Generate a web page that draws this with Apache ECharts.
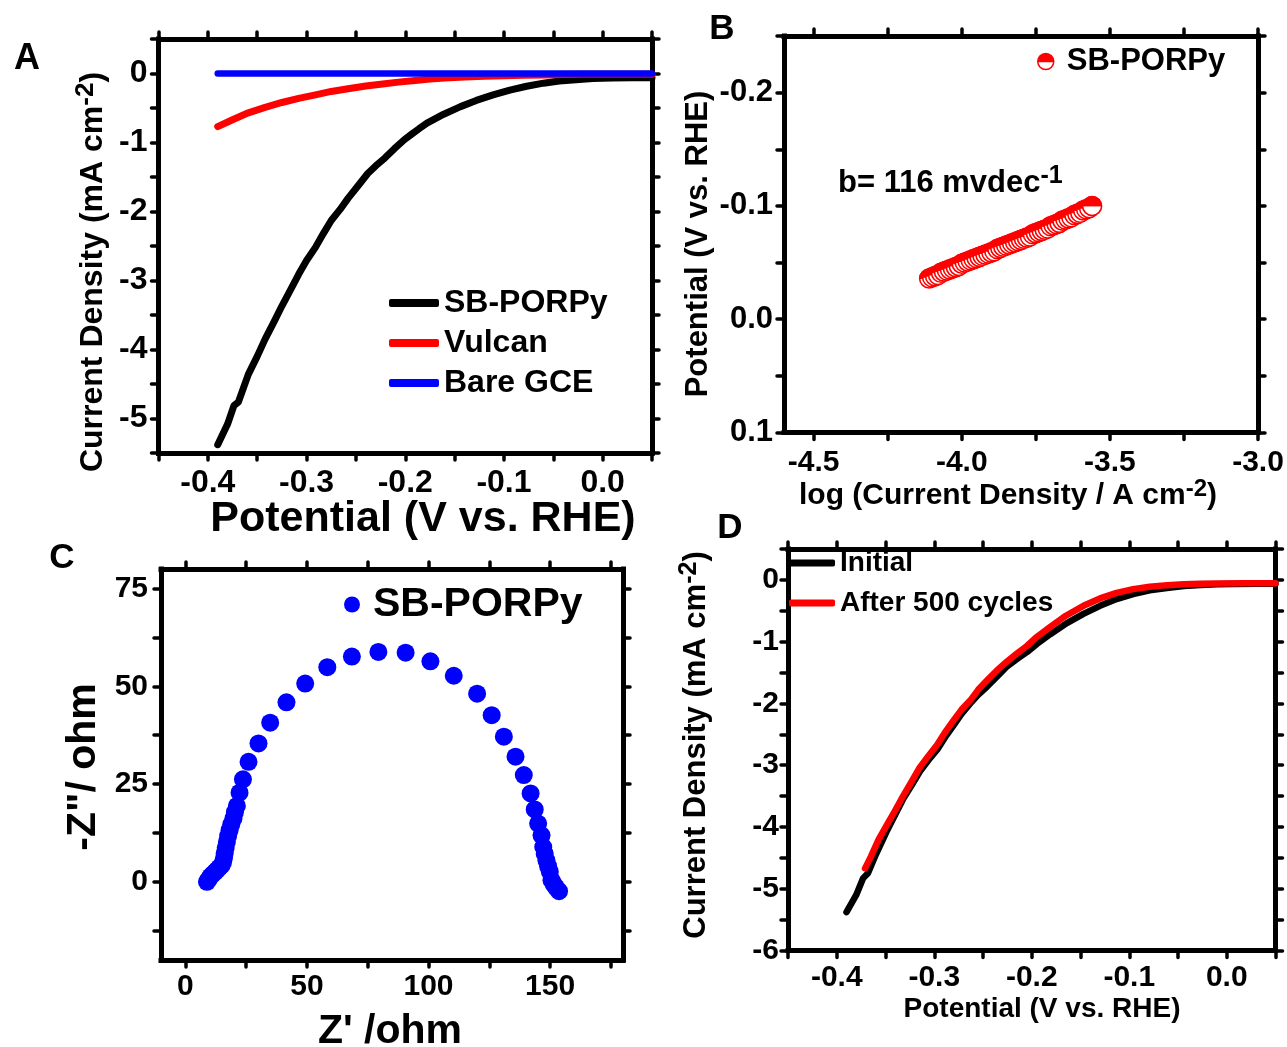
<!DOCTYPE html>
<html>
<head>
<meta charset="utf-8">
<script src="https://cdn.jsdelivr.net/npm/echarts@6/dist/echarts.min.js"></script>
<style>
  html, body { margin: 0; padding: 0; background: #fff; }
  #chart { width: 1287px; height: 1047px; }
</style>
</head>
<body>
<div id="chart"></div>
<script>
// ---------------- DATA ----------------
// Panel A: LSV polarization curves
const aPotSB = [-0.390,-0.380,-0.3735,-0.369,-0.359,-0.350,-0.342,-0.333,-0.325,-0.316,-0.308,-0.300,-0.291,-0.283,-0.275,-0.266,-0.258,-0.248,-0.238,-0.230,-0.221,-0.211,-0.201,-0.1945,-0.186,-0.178,-0.161,-0.144,-0.128,-0.111,-0.094,-0.077,-0.060,-0.044,-0.027,-0.010,0.010,0.030,0.050];
const aCurSB = [-5.38,-5.08,-4.81,-4.76,-4.36,-4.10,-3.85,-3.60,-3.37,-3.13,-2.91,-2.71,-2.52,-2.32,-2.13,-1.97,-1.81,-1.63,-1.45,-1.34,-1.23,-1.09,-0.96,-0.89,-0.80,-0.72,-0.59,-0.48,-0.39,-0.31,-0.24,-0.185,-0.14,-0.11,-0.09,-0.073,-0.066,-0.063,-0.063];
const aPotVulcan = [-0.390,-0.375,-0.359,-0.342,-0.325,-0.308,-0.291,-0.275,-0.258,-0.240,-0.225,-0.207,-0.190,-0.175,-0.160,-0.140,-0.120,-0.100,-0.080,-0.060,-0.040,-0.020,0.000,0.050];
const aCurVulcan = [-0.77,-0.67,-0.57,-0.49,-0.42,-0.36,-0.31,-0.26,-0.22,-0.18,-0.155,-0.125,-0.10,-0.08,-0.065,-0.05,-0.04,-0.032,-0.025,-0.02,-0.015,-0.012,-0.01,-0.01];
const aPotGCE = [-0.390,-0.300,-0.200,-0.100,0.000,0.050];
const aCurGCE = [0,0,0,0,0,0];

// Panel B: Tafel plot
const bLogJ = [-4.11,-4.10,-4.09,-4.08,-4.07,-4.06,-4.05,-4.04,-4.03,-4.02,-4.01,-4.00,-3.99,-3.98,-3.97,-3.96,-3.95,-3.94,-3.93,-3.92,-3.91,-3.90,-3.89,-3.88,-3.87,-3.86,-3.85,-3.84,-3.83,-3.82,-3.81,-3.80,-3.79,-3.78,-3.77,-3.76,-3.75,-3.74,-3.73,-3.72,-3.71,-3.70,-3.69,-3.68,-3.67,-3.66,-3.65,-3.64,-3.63,-3.62,-3.61,-3.60,-3.59,-3.58,-3.57,-3.56];
const bPot = [-0.036,-0.037,-0.038,-0.039,-0.041,-0.042,-0.043,-0.044,-0.045,-0.046,-0.047,-0.049,-0.050,-0.051,-0.052,-0.053,-0.054,-0.055,-0.056,-0.057,-0.058,-0.059,-0.060,-0.062,-0.063,-0.064,-0.065,-0.066,-0.067,-0.068,-0.069,-0.070,-0.071,-0.072,-0.073,-0.075,-0.076,-0.077,-0.078,-0.079,-0.080,-0.082,-0.083,-0.084,-0.085,-0.087,-0.088,-0.089,-0.090,-0.092,-0.093,-0.094,-0.096,-0.097,-0.098,-0.100];

// Panel C: Nyquist plot
const cZre = [8.9,9.6,10.3,11.2,12.2,13.0,14.0,14.9,15.5,15.9,16.2,16.6,17.1,17.6,18.2,18.9,19.8,20.4,21.2,22.3,23.7,26.0,30.1,34.9,41.6,49.3,58.4,68.5,79.4,90.6,100.8,110.4,120.0,126.0,131.0,135.8,139.2,142.0,143.7,145.1,146.5,147.2,147.8,148.5,149.2,149.9,150.6,151.5,152.5,153.7];
const cZim = [0.0,0.6,1.3,1.9,2.5,3.0,3.6,4.2,5.0,6.1,7.3,8.7,10.2,11.7,13.2,14.7,16.2,17.8,19.4,22.8,26.2,30.7,35.4,40.7,45.9,50.7,54.9,57.6,58.8,58.6,56.4,52.7,48.1,42.6,37.1,32.0,27.3,22.6,18.5,14.9,11.9,8.9,7.2,5.5,4.0,2.6,0.4,-0.6,-1.5,-2.4];

// Panel D: stability
const dPotInit = [-0.390,-0.380,-0.373,-0.368,-0.360,-0.349,-0.340,-0.332,-0.323,-0.3146,-0.306,-0.297,-0.289,-0.280,-0.272,-0.263,-0.255,-0.246,-0.236,-0.226,-0.215,-0.205,-0.195,-0.181,-0.164,-0.147,-0.130,-0.113,-0.096,-0.079,-0.0615,-0.044,-0.027,-0.010,0.006,0.030,0.050];
const dCurInit = [-5.38,-5.10,-4.83,-4.75,-4.45,-4.08,-3.80,-3.55,-3.32,-3.10,-2.92,-2.75,-2.55,-2.35,-2.17,-2.00,-1.86,-1.73,-1.57,-1.41,-1.28,-1.17,-1.04,-0.88,-0.70,-0.55,-0.42,-0.31,-0.23,-0.17,-0.13,-0.10,-0.082,-0.072,-0.066,-0.062,-0.062];
const dPotCycled = [-0.371,-0.365,-0.357,-0.349,-0.340,-0.332,-0.323,-0.315,-0.306,-0.297,-0.289,-0.280,-0.272,-0.263,-0.255,-0.246,-0.236,-0.226,-0.215,-0.205,-0.196,-0.181,-0.165,-0.147,-0.130,-0.113,-0.096,-0.079,-0.061,-0.044,-0.027,-0.010,0.020,0.050];
const dCurCycled = [-4.67,-4.48,-4.20,-3.98,-3.73,-3.50,-3.26,-3.04,-2.85,-2.67,-2.47,-2.27,-2.10,-1.95,-1.78,-1.63,-1.47,-1.33,-1.19,-1.07,-0.94,-0.76,-0.58,-0.42,-0.30,-0.21,-0.15,-0.11,-0.085,-0.07,-0.062,-0.057,-0.056,-0.056];

// Ticks and tick labels
const aXTicks = [-0.45,-0.4,-0.35,-0.3,-0.25,-0.2,-0.15,-0.1,-0.05,0,0.05];
const aXLabels = [-0.4,-0.3,-0.2,-0.1,0];
const aYTicks = [-5.5,-5,-4.5,-4,-3.5,-3,-2.5,-2,-1.5,-1,-0.5,0,0.5];
const aYLabels = [-5,-4,-3,-2,-1,0];
const bXTicks = [-4.5,-4.25,-4,-3.75,-3.5,-3.25,-3];
const bXLabels = [-4.5,-4,-3.5,-3];
const bYTicks = [-0.25,-0.2,-0.15,-0.1,-0.05,0,0.05,0.1];
const bYLabels = [-0.2,-0.1,0,0.1];
const cXTicks = [0,25,50,75,100,125,150,175];
const cXLabels = [0,50,100,150];
const cYTicks = [-12.5,0,12.5,25,37.5,50,62.5,75];
const cYLabels = [0,25,50,75];
const dXTicks = [-0.45,-0.4,-0.35,-0.3,-0.25,-0.2,-0.15,-0.1,-0.05,0,0.05];
const dXLabels = [-0.4,-0.3,-0.2,-0.1,0];
const dYTicks = [-6,-5.5,-5,-4.5,-4,-3.5,-3,-2.5,-2,-1.5,-1,-0.5,0,0.5];
const dYLabels = [-6,-5,-4,-3,-2,-1,0];

// ---------------- CHART ----------------
const FONT = '"Liberation Sans", Arimo, Arial, Helvetica, sans-serif';
const zip = (xs, ys) => xs.map((x, i) => [x, ys[i]]);
const fmtInt = v => (Math.abs(v) < 1e-9 ? '0' : String(Math.round(v)));
const fmt1 = v => (Math.abs(v) < 1e-9 ? '0.0' : v.toFixed(1));

function axis(gridIndex, position, min, max, ticks, labels, fmt, fontSize, margin, showLabels, inverse) {
  return {
    type: 'value', gridIndex, position, min, max, inverse: !!inverse,
    splitLine: { show: false },
    axisLine: { show: true, onZero: false, lineStyle: { color: '#000', width: 5, cap: 'square' } },
    axisTick: { show: true, inside: false, length: 7, customValues: ticks,
      lineStyle: { color: '#000', width: 3.5, cap: 'round' } },
    axisLabel: { show: showLabels, customValues: labels, formatter: fmt, fontSize, fontWeight: 'bold',
      fontFamily: FONT, color: '#000', margin },
    minorTick: { show: false }, minorSplitLine: { show: false }
  };
}

const grids = [
  { left: 158.5, top: 39, width: 493.5, height: 414 },
  { left: 784, top: 36, width: 474, height: 396.5 },
  { left: 161, top: 569, width: 462, height: 391 },
  { left: 788, top: 549, width: 487.5, height: 401.5 }
].map(g => Object.assign({ containLabel: false, outerBoundsMode: 'none', show: false }, g));

const xAxes = [
  axis(0, 'bottom', -0.45, 0.05, aXTicks, aXLabels, fmt1, 32, 14, true),
  axis(0, 'top', -0.45, 0.05, aXTicks, aXLabels, fmt1, 32, 14, false),
  axis(1, 'bottom', -4.6, -3.0, bXTicks, bXLabels, fmt1, 30, 15, true),
  axis(1, 'top', -4.6, -3.0, bXTicks, bXLabels, fmt1, 30, 15, false),
  axis(2, 'bottom', -10, 180, cXTicks, cXLabels, fmtInt, 30, 12, true),
  axis(2, 'top', -10, 180, cXTicks, cXLabels, fmtInt, 30, 12, false),
  axis(3, 'bottom', -0.45, 0.05, dXTicks, dXLabels, fmt1, 30, 12, true),
  axis(3, 'top', -0.45, 0.05, dXTicks, dXLabels, fmt1, 30, 12, false)
];
const yAxes = [
  axis(0, 'left', -5.5, 0.5, aYTicks, aYLabels, fmtInt, 32, 11, true),
  axis(0, 'right', -5.5, 0.5, aYTicks, aYLabels, fmtInt, 32, 11, false),
  axis(1, 'left', -0.25, 0.1, bYTicks, bYLabels, fmt1, 31, 11, true, true),
  axis(1, 'right', -0.25, 0.1, bYTicks, bYLabels, fmt1, 31, 11, false, true),
  axis(2, 'left', -20, 80, cYTicks, cYLabels, fmtInt, 30, 13, true),
  axis(2, 'right', -20, 80, cYTicks, cYLabels, fmtInt, 30, 13, false),
  axis(3, 'left', -6, 0.5, dYTicks, dYLabels, fmtInt, 30, 9, true),
  axis(3, 'right', -6, 0.5, dYTicks, dYLabels, fmtInt, 30, 9, false)
];

const lineSeries = (name, xi, yi, data, color, width) => ({
  name, type: 'line', xAxisIndex: xi, yAxisIndex: yi, data, symbol: 'none', showSymbol: false,
  smooth: false, silent: true, clip: true,
  itemStyle: { color }, lineStyle: { color, width, cap: 'round', join: 'round' }
});

const HALF_CIRCLE = 'path://M0,10 A10,10 0 1,1 20,10 A10,10 0 1,1 0,10 Z M20,10 L0,10 A10,10 0 0,0 20,10 Z';

const series = [
  lineSeries('SB-PORPy', 0, 0, zip(aPotSB, aCurSB), '#000000', 7),
  lineSeries('Vulcan', 0, 0, zip(aPotVulcan, aCurVulcan), '#ff0000', 7),
  lineSeries('Bare GCE', 0, 0, zip(aPotGCE, aCurGCE), '#0000ff', 6.5),
  {
    name: 'SB-PORPy ', type: 'custom', coordinateSystem: 'cartesian2d', xAxisIndex: 2, yAxisIndex: 2,
    data: zip(bLogJ, bPot), encode: { x: 0, y: 1 }, silent: true,
    itemStyle: { color: '#ff0000', borderColor: '#ff0000', borderWidth: 1.5 },
    renderItem: (params, api) => {
      const p = api.coord([api.value(0), api.value(1)]);
      const r = 9.5;
      return {
        type: 'group',
        children: [
          { type: 'circle', shape: { cx: p[0], cy: p[1], r }, style: { fill: '#ffffff', stroke: '#ff0000', lineWidth: 1.6 } },
          { type: 'sector', shape: { cx: p[0], cy: p[1], r0: 0, r, startAngle: Math.PI, endAngle: 2 * Math.PI, clockwise: true },
            style: { fill: '#ff0000', stroke: '#ff0000', lineWidth: 1 } }
        ]
      };
    }
  },
  {
    name: 'SB-PORPy  ', type: 'scatter', xAxisIndex: 4, yAxisIndex: 4, data: zip(cZre, cZim),
    symbol: 'circle', symbolSize: 18, silent: true, itemStyle: { color: '#0000ff', opacity: 1 }
  },
  lineSeries('Initial', 6, 6, zip(dPotInit, dCurInit), '#000000', 6.5),
  lineSeries('After 500 cycles', 6, 6, zip(dPotCycled, dCurCycled), '#ff0000', 6.5)
];

const legendText = size => ({ fontSize: size, fontWeight: 'bold', fontFamily: FONT, color: '#000', lineHeight: size });
const legends = [
  { data: ['SB-PORPy', 'Vulcan', 'Bare GCE'], orient: 'vertical', left: 389, top: 287, padding: 0,
    itemWidth: 50, itemHeight: 8, itemGap: 8, icon: 'roundRect', textStyle: legendText(32) },
  { data: [{ name: 'SB-PORPy ', icon: HALF_CIRCLE }], orient: 'vertical', left: 1037, top: 46, padding: 0,
    itemWidth: 16, itemHeight: 16, itemStyle: { color: '#ff0000', borderColor: '#ff0000', borderWidth: 1.5 },
    textStyle: Object.assign(legendText(31), { padding: [0, 0, 0, 8] }) },
  { data: ['SB-PORPy  '], orient: 'vertical', left: 344, top: 584, padding: 0,
    itemWidth: 16, itemHeight: 16, icon: 'circle', textStyle: Object.assign(legendText(41), { padding: [0, 0, 0, 8] }) },
  { data: ['Initial', 'After 500 cycles'], orient: 'vertical', left: 789, top: 549, padding: 0,
    itemWidth: 46, itemHeight: 7, itemGap: 12, icon: 'roundRect', textStyle: legendText(28) }
].map(l => Object.assign({ selectedMode: false, formatter: n => n.trim() }, l));

function txt(x, y, text, size, opts) {
  const o = opts || {};
  const sup = Math.round(size * (o.supScale || 0.8));
  return {
    type: 'text', x, y, rotation: o.rotate ? Math.PI / 2 : 0, silent: true,
    style: {
      text, fontSize: size, fontWeight: 'bold', fontFamily: FONT, fill: '#000',
      align: o.align || 'center', verticalAlign: 'middle',
      rich: {
        s: { fontSize: sup, fontWeight: 'bold', fontFamily: FONT, fill: '#000', verticalAlign: 'top',
             lineHeight: size * 1.25, padding: [0, 0, Math.round(size * 0.35), 0] }
      }
    }
  };
}

const graphics = [
  txt(27, 59, 'A', 36),
  txt(722, 29, 'B', 35),
  txt(62, 558, 'C', 35),
  txt(730, 528, 'D', 35),
  txt(93, 272, 'Current Density (mA cm{s|-2})', 32, { rotate: true }),
  txt(423, 519, 'Potential (V vs. RHE)', 43),
  txt(698, 244, 'Potential (V vs. RHE)', 31, { rotate: true }),
  txt(1008, 496, 'log (Current Density / A cm{s|-2})', 30),
  txt(838, 183, 'b= 116 mvdec{s|-1}', 31, { align: 'left' }),
  txt(84, 767, '-Z"/ ohm', 41, { rotate: true }),
  txt(390, 1032, "Z' /ohm", 41),
  txt(696, 745, 'Current Density (mA cm{s|-2})', 31, { rotate: true }),
  txt(1042, 1009, 'Potential (V vs. RHE)', 28)
];

const chart = echarts.init(document.getElementById('chart'), null, { renderer: 'canvas' });
chart.setOption({
  animation: false,
  backgroundColor: '#ffffff',
  grid: grids,
  xAxis: xAxes,
  yAxis: yAxes,
  legend: legends,
  series,
  graphic: graphics
});
</script>
</body>
</html>
